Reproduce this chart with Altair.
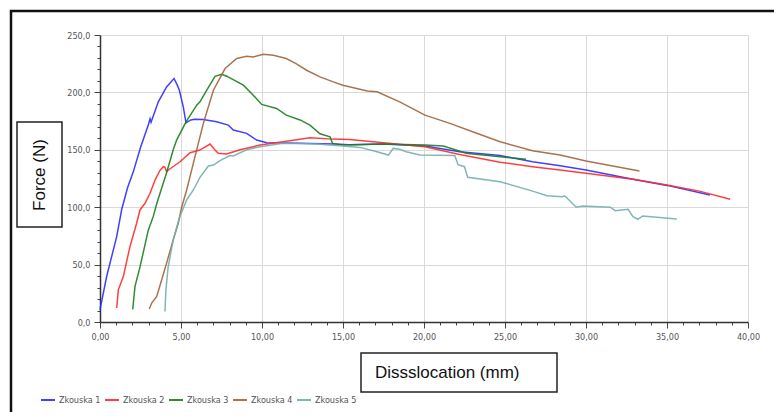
import altair as alt
import pandas as pd

series_names = ["Zkouska 1", "Zkouska 2", "Zkouska 3", "Zkouska 4", "Zkouska 5"]
series_colors = ["#2b2bff", "#ff2a2a", "#1e7d1e", "#a0643c", "#74aeae"]

x1 = [0.00, 0.41, 1.03, 1.34, 1.70, 2.06, 2.50, 2.98, 3.09, 3.15, 3.60, 4.11, 4.57, 4.75, 4.90, 5.14, 5.31,
      5.60, 5.86, 6.38, 7.20, 7.92, 8.23, 9.05, 9.67, 10.29, 12.35, 14.4, 15.4, 17.5, 20.06, 22.2, 24.7,
      26.7, 28.4, 30.0, 32.9, 35.0, 37.65]
y1 = [10.7, 39.6, 74.4, 98.0, 117.0, 131.0, 152.0, 171.5, 177.0, 174.0, 191.8, 204.8, 212.1, 207.0, 201.9,
      187.4, 173.5, 176.0, 176.7, 176.4, 174.4, 171.5, 167.2, 164.3, 158.5, 156.1, 155.6, 155.0, 154.5,
      155.0, 153.3, 148.3, 145.0, 139.6, 136.2, 132.4, 124.3, 119.0, 110.7]

x2 = [1.03, 1.13, 1.44, 1.85, 2.26, 2.47, 2.78, 3.09, 3.40, 3.70, 3.91, 4.01, 4.11, 4.22, 4.94, 5.56, 6.17,
      6.79, 7.10, 7.30, 7.82, 8.64, 9.46, 9.88, 11.3, 12.96, 14.4, 15.4, 17.5, 20.06, 22.2, 24.7, 26.7,
      28.4, 30.0, 32.9, 35.0, 37.0, 38.9]
y2 = [12.2, 28.0, 39.6, 65.7, 86.0, 97.6, 103.4, 112.1, 123.7, 132.0, 135.3, 134.8, 131.0, 132.4, 139.6,
      147.4, 149.8, 155.0, 149.8, 146.9, 146.3, 150.0, 152.7, 154.1, 157.0, 160.5, 159.3, 159.0, 156.1,
      152.7, 146.0, 139.2, 135.3, 132.4, 129.5, 124.3, 119.3, 114.0, 106.9]

x3 = [2.02, 2.16, 2.47, 2.98, 3.29, 3.50, 4.11, 4.52, 4.73, 5.04, 5.31, 5.97, 6.17, 6.59, 7.10, 7.51, 7.82,
      8.85, 9.46, 9.98, 10.9, 11.5, 12.35, 12.96, 13.58, 14.2, 14.35, 15.0, 17.5, 20.06, 21.2, 22.6, 24.7,
      26.3]
y3 = [11.0, 31.0, 48.0, 80.0, 92.0, 103.0, 130.0, 150.0, 158.5, 167.0, 174.4, 188.9, 191.8, 201.9, 214.0,
      215.8, 214.1, 206.3, 197.6, 189.5, 186.0, 180.2, 176.0, 171.5, 164.0, 161.3, 155.6, 154.1, 155.0,
      154.1, 153.3, 147.0, 144.0, 141.7]

x4 = [3.04, 3.19, 3.50, 3.81, 4.11, 4.52, 4.83, 5.04, 5.35, 5.76, 6.38, 7.00, 7.72, 8.44, 9.05, 9.46, 10.08,
      10.7, 11.5, 12.1, 12.75, 13.58, 14.4, 15.0, 16.5, 17.1, 18.5, 20.06, 21.6, 23.0, 24.7, 26.7, 28.4,
      30.0, 33.3]
y4 = [11.3, 16.5, 22.3, 36.8, 51.3, 71.5, 86.0, 100.0, 115.0, 138.2, 173.0, 201.9, 220.8, 229.5, 231.5,
      230.9, 233.2, 232.4, 229.5, 225.1, 219.3, 213.5, 209.2, 206.3, 201.3, 200.5, 191.8, 180.2, 173.0,
      165.7, 157.0, 149.2, 145.4, 140.2, 131.5]

x5 = [4.01, 4.07, 4.21, 4.52, 4.89, 5.35, 5.76, 6.17, 6.69, 7.00, 7.41, 8.02, 8.23, 9.05, 9.88, 11.3, 13.4,
      15.0, 16.05, 17.1, 17.8, 18.1, 18.5, 18.9, 19.75, 21.9, 22.1, 22.5, 22.7, 24.7, 26.7, 27.6, 28.5,
      28.7, 29.4, 29.8, 31.5, 31.8, 32.6, 32.9, 33.2, 33.5, 35.6]
y5 = [9.2, 28.0, 48.3, 71.5, 90.4, 106.3, 115.0, 126.0, 135.9, 136.7, 140.5, 145.0, 144.6, 150.0, 152.7,
      155.6, 155.0, 153.3, 152.1, 148.3, 145.4, 151.2, 150.4, 148.3, 145.4, 145.0, 137.0, 135.3, 126.0,
      122.2, 114.0, 110.0, 109.2, 109.8, 100.0, 101.1, 100.0, 97.0, 98.2, 91.8, 89.5, 92.4, 89.8]

x_ticks = list(range(0, 41))
y_ticks = list(range(0, 251, 10))

rows = []
for name, xs, ys in zip(series_names, [x1, x2, x3, x4, x5], [y1, y2, y3, y4, y5]):
    for i, (xv, yv) in enumerate(zip(xs, ys)):
        rows.append({"series": name, "x": xv, "y": yv, "i": i})
df = pd.DataFrame(rows)
one = pd.DataFrame({"k": [0]})

LABEL_FONT = "Liberation Sans Narrow, DejaVu Sans Condensed, Arial Narrow, sans-serif"
TITLE_FONT = "Liberation Sans, Arial, sans-serif"

x_axis = alt.Axis(
    values=x_ticks,
    labelExpr="datum.value % 5 === 0 ? replace(format(datum.value, '.2f'), '.', ',') : ''",
    title=None,
    grid=True,
    gridColor="#d9d9d9",
    gridOpacity={"condition": {"test": "datum.value % 5 === 0", "value": 1}, "value": 0},
    tickSize={"condition": {"test": "datum.value % 5 === 0", "value": 6}, "value": 3},
    tickColor="#444",
    domainColor="#333",
    domainWidth=1.5,
    labelFont=LABEL_FONT,
    labelFontSize=9,
    labelColor="#555",
    labelPadding=4,
    labelFlush=False,
    labelOverlap=False,
)
y_axis = alt.Axis(
    values=y_ticks,
    labelExpr="datum.value % 50 === 0 ? replace(format(datum.value, '.1f'), '.', ',') : ''",
    title=None,
    grid=True,
    gridColor="#d9d9d9",
    gridOpacity={"condition": {"test": "datum.value % 50 === 0", "value": 1}, "value": 0},
    tickSize={"condition": {"test": "datum.value % 50 === 0", "value": 6}, "value": 3},
    tickColor="#444",
    domainColor="#333",
    domainWidth=1.5,
    labelFont=LABEL_FONT,
    labelFontSize=9,
    labelColor="#555",
    labelPadding=4,
    labelFlush=False,
    labelOverlap=False,
)

lines = alt.Chart(df).mark_line(strokeWidth=1.5, opacity=0.9).encode(
    x=alt.X("x:Q", scale=alt.Scale(domain=[0, 40], nice=False, zero=True), axis=x_axis),
    y=alt.Y("y:Q", scale=alt.Scale(domain=[0, 250], nice=False), axis=y_axis),
    color=alt.Color(
        "series:N",
        scale=alt.Scale(domain=series_names, range=series_colors),
        legend=alt.Legend(
            title=None,
            orient="none",
            legendX=-60,
            legendY=357,
            direction="horizontal",
            symbolType="stroke",
            symbolSize=196,
            symbolStrokeWidth=2,
            labelFont=LABEL_FONT,
            labelFontSize=9,
            labelColor="#555",
            labelOffset=3,
            columnPadding=0,
        ),
    ),
    order="i:Q",
    detail="series:N",
)

outer = alt.Chart(one).mark_rect(fill="transparent", stroke="#111", strokeWidth=2.5).encode(
    x=alt.value(-89), x2=alt.value(900), y=alt.value(-24), y2=alt.value(600)
)
ybox = alt.Chart(one).mark_rect(fill="white", stroke="#222", strokeWidth=1.5).encode(
    x=alt.value(-83), x2=alt.value(-38), y=alt.value(87), y2=alt.value(192)
)
ytext = alt.Chart(one).mark_text(
    angle=270, align="center", baseline="middle", fontSize=17, font=TITLE_FONT, color="#111"
).encode(x=alt.value(-60), y=alt.value(140), text=alt.value("Force (N)"))
xbox = alt.Chart(one).mark_rect(fill="white", stroke="#222", strokeWidth=1.5).encode(
    x=alt.value(261), x2=alt.value(457), y=alt.value(318), y2=alt.value(357)
)
xtext = alt.Chart(one).mark_text(
    align="left", baseline="middle", fontSize=17, font=TITLE_FONT, color="#111"
).encode(x=alt.value(275), y=alt.value(338), text=alt.value("Dissslocation (mm)"))

chart = alt.layer(outer, lines, ybox, ytext, xbox, xtext).properties(
    width=648,
    height=287,
    autosize=alt.AutoSizeParams(type="none"),
    padding={"left": 92, "top": 27, "right": 26, "bottom": 90},
).configure_view(stroke=None).configure(background="white")

chart.save("out.html", embed_options={"renderer": "svg", "actions": False})
